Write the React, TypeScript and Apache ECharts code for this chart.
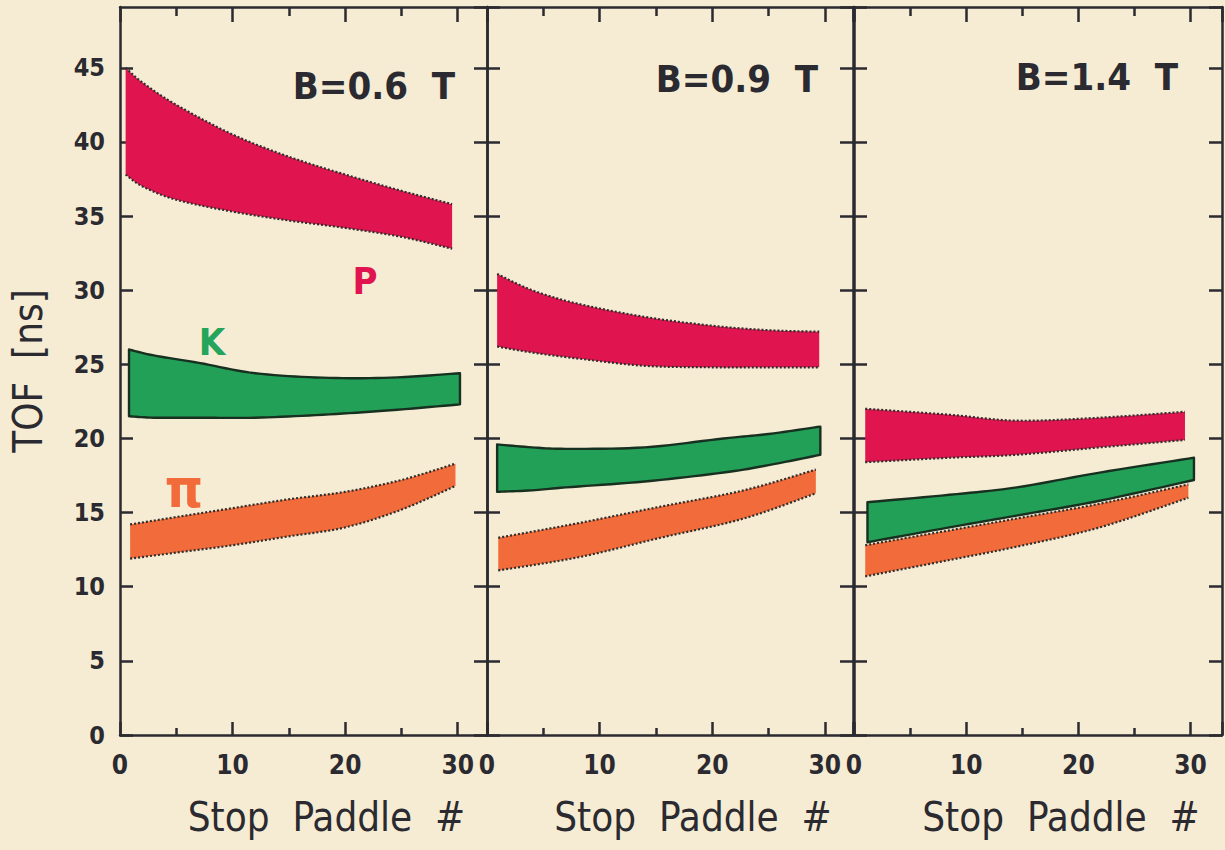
import React, { useEffect, useRef } from 'react';
import * as echarts from 'echarts';

// ---------------- data ----------------
const PANEL_TITLES = ['B=0.6  T', 'B=0.9  T', 'B=1.4  T'];
const X_MAX = [32.6, 32.5, 32.8];
const Y_MAX = 49.1;

// Panel 1 : B = 0.6 T
const P1_P_X = [0.5, 2, 5, 10, 15, 20, 25, 29.5];
const P1_P_UP = [45.0, 44.0, 42.5, 40.5, 39.0, 37.8, 36.7, 35.8];
const P1_P_LO = [37.8, 37.0, 36.1, 35.3, 34.7, 34.2, 33.6, 32.8];
const P1_K_X = [0.8, 3, 7, 12, 18, 24, 30.2];
const P1_K_UP = [26.0, 25.6, 25.1, 24.4, 24.1, 24.1, 24.4];
const P1_K_LO = [21.5, 21.4, 21.4, 21.4, 21.6, 21.9, 22.3];
const P1_PI_X = [0.9, 5, 10, 15, 20, 25, 29.8];
const P1_PI_UP = [14.2, 14.7, 15.3, 15.9, 16.4, 17.2, 18.3];
const P1_PI_LO = [11.9, 12.3, 12.8, 13.4, 14.0, 15.2, 16.8];

// Panel 2 : B = 0.9 T
const P2_P_X = [0.9, 4, 8, 14, 20, 25, 29.5];
const P2_P_UP = [31.1, 30.0, 29.1, 28.2, 27.6, 27.3, 27.2];
const P2_P_LO = [26.2, 25.8, 25.4, 24.9, 24.8, 24.8, 24.8];
const P2_K_X = [0.9, 4, 7, 14, 21, 25, 29.6];
const P2_K_UP = [19.6, 19.4, 19.3, 19.4, 20.0, 20.3, 20.8];
const P2_K_LO = [16.4, 16.5, 16.7, 17.1, 17.7, 18.2, 18.9];
const P2_PI_X = [1, 8.2, 15.4, 22.8, 29.2];
const P2_PI_UP = [13.3, 14.3, 15.4, 16.5, 17.9];
const P2_PI_LO = [11.1, 12.0, 13.3, 14.6, 16.3];

// Panel 3 : B = 1.4 T
const P3_P_X = [1, 8.5, 14.5, 21.9, 29.5];
const P3_P_UP = [22.0, 21.6, 21.2, 21.4, 21.8];
const P3_P_LO = [18.4, 18.7, 18.9, 19.4, 19.9];
const P3_K_X = [1.2, 8.5, 14.5, 21.9, 30.3];
const P3_K_UP = [15.7, 16.2, 16.7, 17.7, 18.7];
const P3_K_LO = [13.0, 14.0, 14.8, 15.8, 17.2];
const P3_PI_X = [1, 8.5, 14.5, 21.9, 29.8];
const P3_PI_UP = [12.8, 13.8, 14.6, 15.6, 16.9];
const P3_PI_LO = [10.7, 11.8, 12.7, 14.0, 16.0];

// ---------------- styling ----------------
const BG = '#f6ecd3';
const INK = '#2a2a30';
const RED = '#e0154f';
const GREEN = '#22a058';
const ORANGE = '#f26b3a';
const FONT = '"DejaVu Sans Condensed", "DejaVu Sans", sans-serif';

const GRIDS = [
  { left: 120, top: 7, width: 367, height: 728 },
  { left: 487, top: 7, width: 366, height: 728 },
  { left: 854, top: 7, width: 368, height: 728 },
];

type BandSpec = { xs: number[]; up: number[]; lo: number[]; color: string; edge: string; dotted: boolean; name: string };

const PANEL_BANDS: BandSpec[][] = [
  [
    { name: 'pi', xs: P1_PI_X, up: P1_PI_UP, lo: P1_PI_LO, color: ORANGE, edge: '#2e2e2e', dotted: true },
    { name: 'K', xs: P1_K_X, up: P1_K_UP, lo: P1_K_LO, color: GREEN, edge: '#17301f', dotted: false },
    { name: 'p', xs: P1_P_X, up: P1_P_UP, lo: P1_P_LO, color: RED, edge: '#2e2e2e', dotted: true },
  ],
  [
    { name: 'pi', xs: P2_PI_X, up: P2_PI_UP, lo: P2_PI_LO, color: ORANGE, edge: '#2e2e2e', dotted: true },
    { name: 'K', xs: P2_K_X, up: P2_K_UP, lo: P2_K_LO, color: GREEN, edge: '#17301f', dotted: false },
    { name: 'p', xs: P2_P_X, up: P2_P_UP, lo: P2_P_LO, color: RED, edge: '#2e2e2e', dotted: true },
  ],
  [
    { name: 'pi', xs: P3_PI_X, up: P3_PI_UP, lo: P3_PI_LO, color: ORANGE, edge: '#2e2e2e', dotted: true },
    { name: 'K', xs: P3_K_X, up: P3_K_UP, lo: P3_K_LO, color: GREEN, edge: '#17301f', dotted: false },
    { name: 'p', xs: P3_P_X, up: P3_P_UP, lo: P3_P_LO, color: RED, edge: '#2e2e2e', dotted: true },
  ],
];

// Catmull-Rom rendering of a curve through the pixel points (drawing only).
function spline(pts: number[][], seg = 10): number[][] {
  const out: number[][] = [];
  const n = pts.length;
  for (let i = 0; i < n - 1; i++) {
    const p0 = pts[i - 1] || pts[i];
    const p1 = pts[i];
    const p2 = pts[i + 1];
    const p3 = pts[i + 2] || pts[i + 1];
    for (let s = 0; s < seg; s++) {
      const t = s / seg;
      const t2 = t * t;
      const t3 = t2 * t;
      const f = (a: number, b: number, c: number, d: number) =>
        0.5 * (2 * b + (-a + c) * t + (2 * a - 5 * b + 4 * c - d) * t2 + (-a + 3 * b - 3 * c + d) * t3);
      out.push([f(p0[0], p1[0], p2[0], p3[0]), f(p0[1], p1[1], p2[1], p3[1])]);
    }
  }
  out.push(pts[n - 1]);
  return out;
}

function bandSeries(g: number, b: BandSpec, order: number): any {
  const data = b.xs.map((x, k) => [x, b.lo[k], b.up[k]]);
  return {
    type: 'custom',
    name: `g${g}-${b.name}`,
    coordinateSystem: 'cartesian2d',
    xAxisIndex: g * 2,
    yAxisIndex: g * 2,
    silent: true,
    clip: true,
    z: 2 + order,
    encode: { x: 0, y: [1, 2] },
    data,
    renderItem: (params: any, api: any) => {
      if (params.dataIndex !== 0) return null;
      const upPts = spline(data.map((d) => api.coord([d[0], d[2]])));
      const loPts = spline(data.map((d) => api.coord([d[0], d[1]])));
      const edgeStyle = {
        fill: 'none',
        stroke: b.edge,
        lineWidth: 2.2,
        lineDash: [2, 2],
      };
      const children: any[] = [
        {
          type: 'polygon',
          shape: { points: [...upPts, ...loPts.slice().reverse()] },
          style: b.dotted
            ? { fill: b.color }
            : { fill: b.color, stroke: b.edge, lineWidth: 2.4, lineJoin: 'round' },
        },
      ];
      if (b.dotted) {
        children.push({ type: 'polyline', shape: { points: upPts }, style: edgeStyle });
        children.push({ type: 'polyline', shape: { points: loPts }, style: edgeStyle });
      }
      return { type: 'group', children };
    },
  };
}

export default function App() {
  const ref = useRef<HTMLDivElement>(null);
  useEffect(() => {
    if (!ref.current) return;
    const chart = echarts.init(ref.current, null, { renderer: 'svg' });

    const xAxis: any[] = [];
    const yAxis: any[] = [];
    GRIDS.forEach((_, g) => {
      const axisLine = { show: true, onZero: false, lineStyle: { color: INK, width: 2.5 } };
      xAxis.push({
        type: 'value',
        gridIndex: g,
        position: 'bottom',
        min: 0,
        max: X_MAX[g],
        interval: 10,
        axisLine,
        axisTick: { show: true, inside: true, length: 13, lineStyle: { color: INK, width: 2.5 } },
        minorTick: { show: true, splitNumber: 2, length: 7, lineStyle: { color: INK, width: 2.5 } },
        splitLine: { show: false },
        axisLabel: {
          show: true,
          margin: 17,
          showMaxLabel: false,
          fontFamily: FONT,
          fontWeight: 'bold',
          fontSize: 26,
          color: INK,
          formatter: (v: number) => (v % 10 === 0 ? String(v) : ''),
        },
        name: 'Stop  Paddle  #',
        nameLocation: 'middle',
        nameGap: 62,
        nameTextStyle: { fontFamily: FONT, fontSize: 40, color: INK, padding: [0, 0, 0, 46] },
      });
      xAxis.push({
        type: 'value',
        gridIndex: g,
        position: 'top',
        min: 0,
        max: X_MAX[g],
        interval: 10,
        axisLine,
        axisTick: { show: true, inside: true, length: 15, lineStyle: { color: INK, width: 2.5 } },
        minorTick: { show: true, splitNumber: 2, length: 9, lineStyle: { color: INK, width: 2.5 } },
        splitLine: { show: false },
        axisLabel: { show: false },
      });
      yAxis.push({
        type: 'value',
        gridIndex: g,
        position: 'left',
        min: 0,
        max: Y_MAX,
        interval: 5,
        axisLine,
        axisTick: { show: true, inside: true, length: 13, lineStyle: { color: INK, width: 2.5 } },
        splitLine: { show: false },
        axisLabel: {
          show: g === 0,
          margin: 15,
          showMaxLabel: false,
          fontFamily: FONT,
          fontWeight: 'bold',
          fontSize: 25,
          color: INK,
        },
        name: g === 0 ? 'TOF  [ns]' : '',
        nameLocation: 'middle',
        nameRotate: 90,
        nameGap: 72,
        nameTextStyle: { fontFamily: FONT, fontSize: 40, color: INK },
      });
      yAxis.push({
        type: 'value',
        gridIndex: g,
        position: 'right',
        min: 0,
        max: Y_MAX,
        interval: 5,
        axisLine,
        axisTick: { show: true, inside: true, length: 13, lineStyle: { color: INK, width: 2.5 } },
        splitLine: { show: false },
        axisLabel: { show: false },
      });
    });

    const series: any[] = [];
    PANEL_BANDS.forEach((bands, g) => {
      bands.forEach((b, i) => {
        series.push(bandSeries(g, b, i));
      });
    });

    const titleCenters = [
      [374, 86],
      [737, 79],
      [1097, 77],
    ];

    const graphic: any[] = [
      ...PANEL_TITLES.map((t, i) => ({
        type: 'text',
        x: titleCenters[i][0],
        y: titleCenters[i][1],
        style: {
          text: t,
          fill: INK,
          font: `bold 38px ${FONT}`,
          textAlign: 'center',
          textVerticalAlign: 'middle',
        },
        z: 50,
      })),
      {
        type: 'text',
        x: 365,
        y: 281,
        style: { text: 'P', fill: RED, font: `bold 38px ${FONT}`, textAlign: 'center', textVerticalAlign: 'middle' },
        z: 50,
      },
      {
        type: 'text',
        x: 212,
        y: 342,
        style: { text: 'K', fill: '#25a55b', font: `bold 38px ${FONT}`, textAlign: 'center', textVerticalAlign: 'middle' },
        z: 50,
      },
      {
        type: 'text',
        x: 184,
        y: 488,
        style: { text: 'π', fill: ORANGE, font: `bold 54px ${FONT}`, textAlign: 'center', textVerticalAlign: 'middle' },
        z: 50,
      },
    ];

    chart.setOption({
      animation: false,
      backgroundColor: BG,
      grid: GRIDS.map((g) => ({ ...g, containLabel: false })),
      xAxis,
      yAxis,
      series,
      graphic,
    });
    return () => chart.dispose();
  }, []);

  return (
    <div
      ref={ref}
      style={{ position: 'absolute', left: 0, top: 0, width: 1225, height: 850, background: BG }}
    />
  );
}
